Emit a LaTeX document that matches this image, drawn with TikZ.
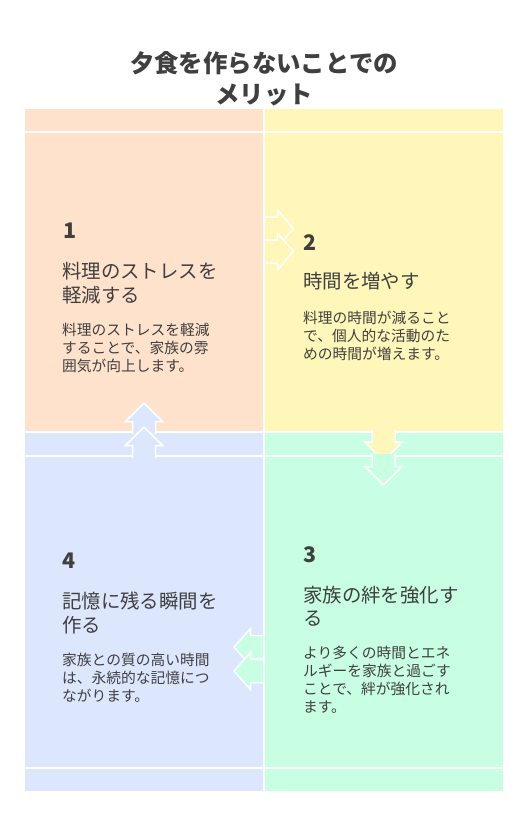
\documentclass[tikz,border=0pt]{standalone}
\usepackage{fontspec}
\setmainfont{Noto Sans CJK JP}
\definecolor{peach}{HTML}{FEE2CC}
\definecolor{lemon}{HTML}{FFF7B9}
\definecolor{sky}{HTML}{DCE7FE}
\definecolor{mint}{HTML}{C8FEE2}
\definecolor{ink}{HTML}{3F3F3F}
\newcommand{\blockArrow}[4]{%
  \begin{scope}[shift={(#1)}, rotate=#2]
    \fill[#3] (0,-11.5) -- (12.5,-11.5) -- (12.5,-18.5) -- (#4,0) -- (12.5,18.5) -- (12.5,11.5) -- (0,11.5) -- cycle;
    \draw[white, line width=1.5bp, line join=miter] (0,-11.5) -- (12.5,-11.5) -- (12.5,-18.5) -- (#4,0) -- (12.5,18.5) -- (12.5,11.5) -- (0,11.5);
  \end{scope}}

\begin{document}
\begin{tikzpicture}[x=1bp, y=-1bp]
  \tikzset{
    num/.style={anchor=north west, inner sep=0, text=ink, font=\bfseries\fontsize{21.5}{24}\selectfont},
    head/.style={anchor=north west, inner sep=0, text=ink, align=left, font=\fontsize{19.5}{24}\selectfont},
    body/.style={anchor=north west, inner sep=0, text=ink, align=left, font=\fontsize{14.8}{18.2}\selectfont},
    gapline/.style={white, line width=2bp}
  }
  \useasboundingbox[fill=white] (0,0) rectangle (528,816);
  \node[align=center, text=ink, font=\bfseries\fontsize{24.5}{31}\selectfont] (title) at (264,79) {夕食を作らないことでの\\メリット};
  \fill[peach] (25,109) rectangle (263,431);
  \fill[lemon] (265,109) rectangle (503,431);
  \fill[sky] (25,433) rectangle (263,791);
  \fill[mint] (265,433) rectangle (503,791);
  \draw[gapline] (25,131.8) -- (503,131.8);
  \draw[gapline] (25,456) -- (503,456);
  \draw[gapline] (25,767.8) -- (503,767.8);
  \coordinate (r1) at (265,228.5);
  \coordinate (r2) at (265,251.5);
  \coordinate (d1) at (383.5,429.5);
  \coordinate (d2) at (383.5,454);
  \coordinate (l1) at (263,647);
  \coordinate (l2) at (263,671);
  \coordinate (u1) at (144,434);
  \coordinate (u2) at (144,458);
  \blockArrow{r1}{0}{lemon}{28.5}
  \blockArrow{r2}{0}{lemon}{28.5}
  \blockArrow{d1}{-90}{lemon}{32}
  \blockArrow{d2}{-90}{mint}{31}
  \blockArrow{l1}{180}{mint}{29}
  \blockArrow{l2}{180}{mint}{29}
  \blockArrow{u1}{90}{sky}{31}
  \blockArrow{u2}{90}{sky}{31}
  \node[num] (n1) at (63,222.5) {1};
  \node[head] (h1) at (62,262) {料理のストレスを\\軽減する};
  \node[body] (b1) at (62,322.6) {料理のストレスを軽減\\することで、家族の雰\\囲気が向上します。};
  \node[num] (n2) at (303,234) {2};
  \node[head] (h2) at (303,272) {時間を増やす};
  \node[body] (b2) at (303,310.6) {料理の時間が減ること\\で、個人的な活動のた\\めの時間が増えます。};
  \node[num] (n3) at (303,546) {3};
  \node[head] (h3) at (303,585.5) {家族の絆を強化す\\る};
  \node[body] (b3) at (303,645.6) {より多くの時間とエネ\\ルギーを家族と過ごす\\ことで、絆が強化され\\ます。};
  \node[num] (n4) at (62,553) {4};
  \node[head] (h4) at (62,592) {記憶に残る瞬間を\\作る};
  \node[body] (b4) at (62,652.6) {家族との質の高い時間\\は、永続的な記憶につ\\ながります。};
\end{tikzpicture}
\end{document}
